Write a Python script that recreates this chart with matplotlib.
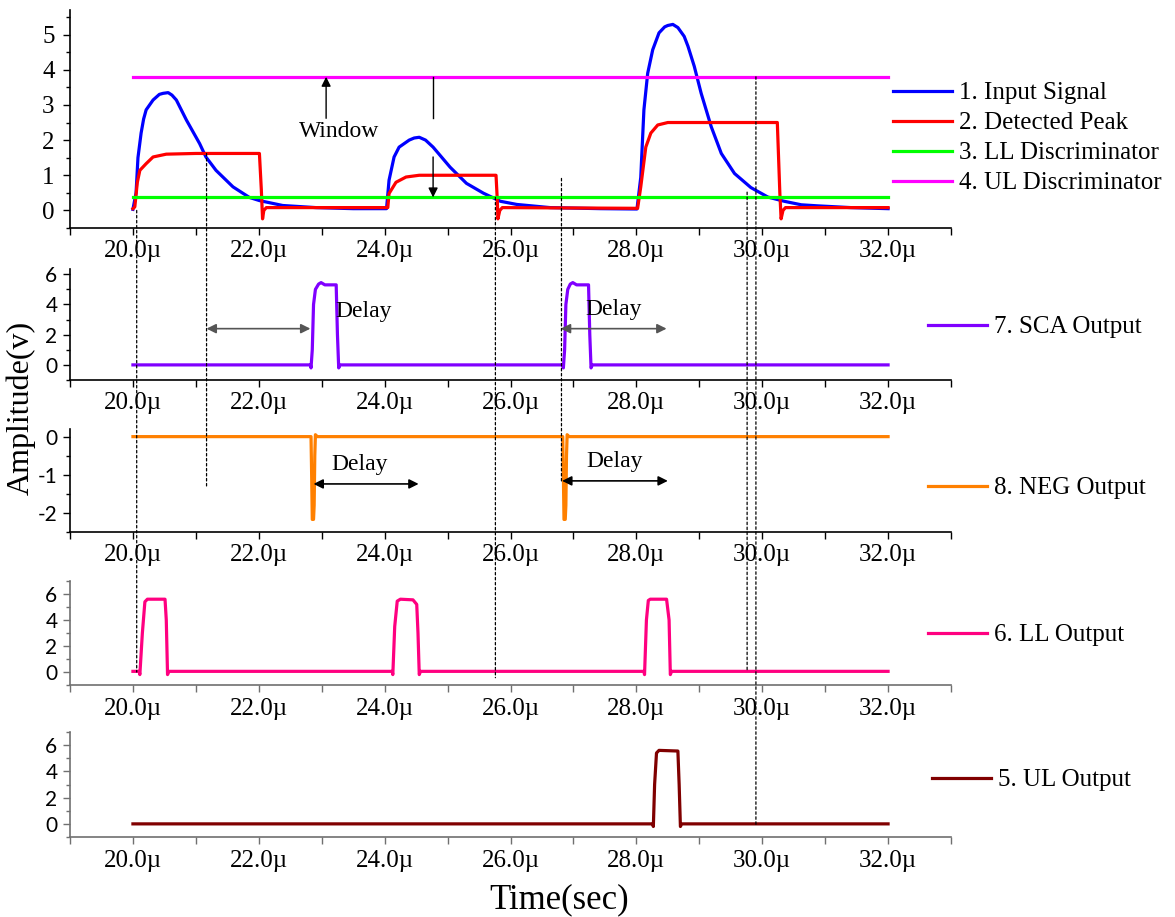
import matplotlib
matplotlib.use("Agg")
import matplotlib.pyplot as plt
from matplotlib.patches import ConnectionPatch
from matplotlib.ticker import FuncFormatter, MultipleLocator

plt.rcParams.update({
    'font.family': ['Liberation Serif', 'DejaVu Serif'],
    'font.size': 18,
    'axes.linewidth': 1.2,
    'axes.unicode_minus': False,
})

# ---- data (time in µs, amplitude in V) ----
t_input = [20.00, 20.05, 20.08, 20.13, 20.17, 20.21, 20.32, 20.42, 20.48, 20.56, 20.62,
           20.69, 20.85, 21.06, 21.16, 21.32, 21.59, 21.85, 22.01, 22.38, 22.91, 23.50,
           24.03,
           24.07, 24.15, 24.23, 24.39, 24.47, 24.55, 24.65, 24.77, 25.04, 25.30, 25.57,
           25.84, 26.10, 26.63, 27.43, 28.01,
           28.07, 28.12, 28.18, 28.26, 28.36, 28.45, 28.50, 28.58, 28.66, 28.76, 28.82,
           28.92, 29.03, 29.19, 29.35, 29.56, 29.82, 30.09, 30.35, 30.62, 30.88, 31.41,
           32.00]
v_input = [0.03, 0.50, 1.50, 2.20, 2.60, 2.86, 3.14, 3.30, 3.33, 3.35, 3.28,
           3.14, 2.57, 1.90, 1.52, 1.14, 0.67, 0.37, 0.28, 0.14, 0.08, 0.05,
           0.05,
           0.86, 1.52, 1.80, 2.00, 2.06, 2.08, 2.00, 1.80, 1.23, 0.77, 0.49,
           0.26, 0.17, 0.08, 0.05, 0.04,
           0.94, 2.86, 3.90, 4.57, 5.05, 5.22, 5.26, 5.29, 5.20, 4.95, 4.67,
           4.10, 3.33, 2.38, 1.62, 1.05, 0.65, 0.38, 0.26, 0.16, 0.13, 0.08,
           0.05]

t_peak = [20.00, 20.03, 20.07, 20.11, 20.21, 20.32, 20.53, 21.00, 22.01, 22.04, 22.06,
          22.08, 22.12, 24.05, 24.07, 24.18, 24.34, 24.55, 25.77, 25.79, 25.80, 25.83,
          25.87, 28.02, 28.07, 28.15, 28.23, 28.34, 28.50, 30.24, 30.28, 30.30, 30.33,
          30.37, 32.00]
v_peak = [0.05, 0.10, 0.80, 1.14, 1.33, 1.52, 1.60, 1.62, 1.62, 0.60, -0.24,
          0.00, 0.08, 0.08, 0.48, 0.80, 0.95, 1.00, 1.00, 0.30, -0.24, 0.00,
          0.08, 0.06, 0.67, 1.80, 2.20, 2.43, 2.50, 2.50, 0.50, -0.24, 0.00,
          0.08, 0.08]

t_disc = [20.0, 32.0]
v_ll_disc = [0.37, 0.37]
v_ul_disc = [3.80, 3.80]

t_sca = [20.00, 22.82, 22.83, 22.85, 22.87, 22.90, 22.95, 22.99, 23.05, 23.23, 23.25,
         23.27, 23.29, 26.83, 26.84, 26.86, 26.88, 26.91, 26.95, 26.99, 27.05, 27.24,
         27.26, 27.28, 27.30, 32.00]
v_sca = [0.0, 0.0, -0.2, 1.0, 4.0, 5.0, 5.35, 5.45, 5.30, 5.30, 2.0,
         -0.2, 0.0, 0.0, -0.2, 1.0, 4.0, 5.0, 5.35, 5.45, 5.30, 5.30,
         2.0, -0.2, 0.0, 0.0]

t_neg = [20.00, 22.83, 22.84, 22.85, 22.87, 22.88, 22.89, 22.90, 22.93, 26.83, 26.84,
         26.85, 26.87, 26.88, 26.89, 26.90, 26.93, 32.00]
v_neg = [0.0, 0.0, -1.0, -2.17, -2.17, -1.8, -0.5, 0.05, 0.0, 0.0, -1.0,
         -2.17, -2.17, -1.8, -0.5, 0.05, 0.0, 0.0]

t_ll = [20.00, 20.10, 20.11, 20.15, 20.19, 20.23, 20.51, 20.53, 20.55, 20.57,
        24.12, 24.13, 24.16, 24.20, 24.25, 24.45, 24.51, 24.53, 24.55, 24.57,
        28.12, 28.13, 28.16, 28.19, 28.22, 28.48, 28.52, 28.54, 28.56, 32.00]
v_ll = [0.05, 0.05, -0.2, 3.0, 5.4, 5.6, 5.6, 4.0, -0.2, 0.05,
        0.05, -0.2, 3.5, 5.45, 5.6, 5.55, 5.2, 3.0, -0.2, 0.05,
        0.05, -0.2, 4.0, 5.5, 5.6, 5.6, 4.0, -0.2, 0.05, 0.05]

t_ul = [20.00, 28.26, 28.27, 28.29, 28.32, 28.36, 28.66, 28.68, 28.70, 28.72, 32.00]
v_ul = [0.0, 0.0, -0.2, 3.0, 5.4, 5.6, 5.55, 3.0, -0.2, 0.0, 0.0]

W, H = 1175, 917
fig = plt.figure(figsize=(W / 100, H / 100), dpi=100)


def add_panel(top, bottom):
    return fig.add_axes([70 / W, 1 - bottom / H, 881 / W, (bottom - top) / H])


ax1 = add_panel(10, 228)
ax2 = add_panel(269, 380)
ax3 = add_panel(429, 532)
ax4 = add_panel(581, 685)
ax5 = add_panel(732, 837)
axes = [ax1, ax2, ax3, ax4, ax5]

lw = 2.3
h_in, = ax1.plot(t_input, v_input, color='#0000FF', lw=lw)
h_pk, = ax1.plot(t_peak, v_peak, color='#FF0000', lw=lw)
h_ll, = ax1.plot(t_disc, v_ll_disc, color='#00FF00', lw=lw)
h_ul, = ax1.plot(t_disc, v_ul_disc, color='#FF00FF', lw=lw)
h_sca, = ax2.plot(t_sca, v_sca, color='#8000FF', lw=lw)
h_neg, = ax3.plot(t_neg, v_neg, color='#FF8000', lw=lw)
h_llo, = ax4.plot(t_ll, v_ll, color='#FF0080', lw=lw)
h_ulo, = ax5.plot(t_ul, v_ul, color='#800000', lw=lw)

ylims = [(-0.5, 5.7), (-1, 6.35), (-2.5, 0.2), (-1, 7), (-1, 7)]
ymin = [0.5, 1, 0.5, 1, 1]
yticks = [[0, 1, 2, 3, 4, 5], [0, 2, 4, 6], [-2, -1, 0], [0, 2, 4, 6], [0, 2, 4, 6]]

for i, ax in enumerate(axes):
    ax.set_xlim(19, 33)
    ax.set_ylim(*ylims[i])
    ax.spines['top'].set_visible(False)
    ax.spines['right'].set_visible(False)
    ax.xaxis.set_major_locator(MultipleLocator(1))
    ax.xaxis.set_major_formatter(FuncFormatter(
        lambda x, p: f"{x:.1f}\u00b5" if (round(x) % 2 == 0 and 20 <= x <= 32) else ""))
    ax.set_yticks(yticks[i])
    ax.yaxis.set_minor_locator(MultipleLocator(ymin[i]))
    ax.tick_params(axis='x', direction='out', length=5, width=1, pad=4, labelsize=18)
    ax.tick_params(axis='y', which='major', direction='out', length=5, width=1,
                   pad=6 if i == 0 else 4)
    ax.tick_params(axis='y', which='minor', direction='out', length=3, width=1)
    if i > 0:
        # lower panels use a sans face for the y tick labels
        for lab in ax.get_yticklabels():
            lab.set_fontfamily('Lato')
            lab.set_fontsize(15)
    if i >= 3:
        for s in ('left', 'bottom'):
            ax.spines[s].set_color('#707070')
        ax.tick_params(which='both', color='#707070')

# legends
leg_kw = dict(frameon=False, borderpad=0, borderaxespad=0, handlelength=2.35,
              handletextpad=0.3, fontsize=18, bbox_transform=fig.transFigure,
              loc='center left')
ax1.legend([h_in, h_pk, h_ll, h_ul],
           ['1. Input Signal', '2. Detected Peak', '3. LL Discriminator', '4. UL Discriminator'],
           bbox_to_anchor=(893 / W, 1 - 138 / H), labelspacing=0.3, **leg_kw)
ax2.legend([h_sca], ['7. SCA Output'], bbox_to_anchor=(928 / W, 1 - 327 / H), **leg_kw)
ax3.legend([h_neg], ['8. NEG Output'], bbox_to_anchor=(928 / W, 1 - 488 / H), **leg_kw)
ax4.legend([h_llo], ['6. LL Output'], bbox_to_anchor=(928 / W, 1 - 635 / H), **leg_kw)
ax5.legend([h_ulo], ['5. UL Output'], bbox_to_anchor=(932 / W, 1 - 780 / H), **leg_kw)

# window annotation
ax1.annotate('', xy=(23.07, 3.8), xytext=(23.07, 2.62),
             arrowprops=dict(arrowstyle='-|>', color='black', lw=1.0,
                             mutation_scale=14, shrinkA=0, shrinkB=0))
ax1.text(23.28, 2.24, 'Window', ha='center', va='center', fontsize=17)
ax1.plot([24.77, 24.77], [3.8, 2.62], color='black', lw=1.0)
ax1.annotate('', xy=(24.77, 0.37), xytext=(24.77, 1.52),
             arrowprops=dict(arrowstyle='-|>', color='black', lw=1.0,
                             mutation_scale=14, shrinkA=0, shrinkB=0))


# delay arrows
def delay(ax, x1, x2, y, tx, ty, color):
    ax.annotate('', xy=(x2, y), xytext=(x1, y),
                arrowprops=dict(arrowstyle='<|-|>', color=color, lw=1.2,
                                mutation_scale=14, shrinkA=0, shrinkB=0))
    ax.text(tx, ty, 'Delay', ha='center', va='center', fontsize=17)


delay(ax2, 21.17, 22.82, 2.4, 23.66, 3.55, '#555555')
delay(ax2, 26.80, 28.48, 2.4, 27.64, 3.67, '#555555')
delay(ax3, 22.87, 24.54, -1.24, 23.61, -0.74, 'black')
delay(ax3, 26.82, 28.50, -1.16, 27.65, -0.66, 'black')

# dotted guide lines across panels
guides = [(20.06, 0.0, ax4, 0.0), (21.17, 1.62, ax3, -1.35), (25.76, 0.37, ax4, -0.44),
          (26.81, 0.91, ax3, -1.22), (29.76, 0.52, ax4, 0.0), (29.90, 3.8, ax5, -0.2)]
for x, ya, axb, yb in guides:
    con = ConnectionPatch(xyA=(x, ya), coordsA=ax1.transData, xyB=(x, yb),
                          coordsB=axb.transData, color='black', lw=0.9,
                          linestyle=(0, (2, 2)))
    fig.add_artist(con)

fig.text(21 / W, 1 - 408 / H, 'Amplitude(v)', rotation=90, ha='center', va='center',
         fontsize=23)
fig.text(559 / W, 1 - 900 / H, 'Time(sec)', ha='center', va='center', fontsize=25)

fig.savefig('out.png', dpi=100)
